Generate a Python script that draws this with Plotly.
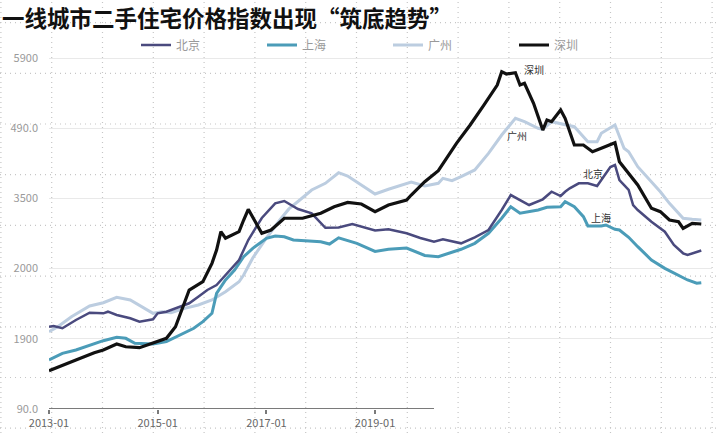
import plotly.graph_objects as go

# Index values (monthly points, approximate)
sz_dates = ["2013-01", "2013-04", "2013-07", "2013-11", "2014-01", "2014-04", "2014-06", "2014-09",
            "2014-12", "2015-03", "2015-05", "2015-07", "2015-08", "2015-11", "2016-01", "2016-02",
            "2016-03", "2016-04", "2016-07", "2016-08", "2016-09", "2016-12", "2017-02", "2017-05",
            "2017-09", "2018-01", "2018-04", "2018-07", "2018-10", "2019-01", "2019-04", "2019-08",
            "2019-09", "2019-12", "2020-03", "2020-07", "2020-10", "2021-01", "2021-04", "2021-05",
            "2021-06", "2021-08", "2021-09", "2021-10", "2021-12", "2022-02", "2022-03", "2022-04",
            "2022-06", "2022-07", "2022-09", "2022-11", "2023-01", "2023-03", "2023-06", "2023-07",
            "2023-10", "2023-11", "2024-02", "2024-04", "2024-06", "2024-08", "2024-09", "2024-11",
            "2025-01"]
sz_values = [144.6, 152.7, 159.8, 170.2, 174.0, 182.6, 178.7, 177.3,
             183.6, 190.7, 207.2, 240.6, 259.5, 271.3, 297.5, 316.5,
             342.6, 333.2, 342.6, 359.2, 374.5, 340.3, 345.0, 361.7,
             361.7, 368.8, 378.2, 384.2, 382.0, 371.1, 380.6, 387.7,
             394.8, 413.8, 429.5, 468.5, 494.6, 523.0, 551.5, 570.5,
             567.2, 569.1, 551.5, 554.0, 525.5, 487.4, 501.7, 499.3,
             515.9, 504.1, 466.1, 466.1, 456.5, 461.4, 469.3, 442.3,
             418.6, 409.1, 375.9, 371.1, 359.2, 356.8, 347.4, 354.5,
             353.5]

bj_dates = ["2013-01", "2013-02", "2013-04", "2013-07", "2013-10", "2014-01", "2014-02", "2014-04",
            "2014-07", "2014-09", "2014-12", "2015-01", "2015-03", "2015-06", "2015-08", "2015-10",
            "2015-12", "2016-02", "2016-07", "2016-09", "2016-12", "2017-03", "2017-05", "2017-08",
            "2017-11", "2018-02", "2018-05", "2018-08", "2018-11", "2019-01", "2019-04", "2019-08",
            "2019-11", "2020-02", "2020-04", "2020-08", "2020-11", "2021-02", "2021-05", "2021-07",
            "2021-11", "2022-02", "2022-04", "2022-06", "2022-07", "2022-08", "2022-10", "2022-12",
            "2023-02", "2023-03", "2023-05", "2023-06", "2023-07", "2023-09", "2023-10", "2023-11",
            "2024-02", "2024-05", "2024-07", "2024-09", "2024-10", "2025-01"]
bj_values = [207.2, 208.2, 205.0, 216.8, 227.2, 226.3, 228.6, 223.9,
             219.2, 214.4, 217.8, 226.3, 228.6, 235.7, 240.6, 250.0,
             259.5, 266.6, 302.3, 330.7, 362.1, 383.0, 386.3, 374.9,
             368.8, 348.1, 348.5, 353.5, 347.4, 344.3, 346.1, 340.3,
             333.6, 328.3, 331.7, 326.0, 334.6, 345.0, 373.5, 394.8,
             380.6, 388.7, 399.5, 393.4, 399.5, 404.4, 411.5, 411.5,
             407.7, 416.2, 434.7, 437.6, 416.2, 402.0, 380.6, 373.5,
             356.8, 342.6, 323.6, 311.8, 309.4, 315.8]

sh_dates = ["2013-01", "2013-04", "2013-07", "2013-10", "2014-01", "2014-04", "2014-06", "2014-08",
            "2014-10", "2014-12", "2015-03", "2015-06", "2015-09", "2015-11", "2016-01", "2016-02",
            "2016-04", "2016-06", "2016-08", "2016-10", "2017-01", "2017-03", "2017-05", "2017-07",
            "2017-10", "2018-01", "2018-03", "2018-05", "2018-09", "2019-01", "2019-04", "2019-08",
            "2019-12", "2020-03", "2020-08", "2020-11", "2021-02", "2021-05", "2021-07", "2021-09",
            "2022-01", "2022-03", "2022-06", "2022-07", "2022-09", "2022-11", "2022-12", "2023-03",
            "2023-04", "2023-06", "2023-07", "2023-09", "2023-11", "2024-02", "2024-05", "2024-10",
            "2024-12", "2025-01"]
sh_values = [159.8, 169.3, 174.0, 181.2, 187.3, 192.1, 190.7, 183.6,
             182.6, 182.6, 185.9, 195.4, 205.0, 214.4, 226.3, 254.8,
             273.8, 288.0, 306.9, 318.9, 333.2, 336.4, 335.4, 330.7,
             329.7, 328.3, 325.0, 333.9, 326.0, 314.4, 317.5, 319.3,
             308.7, 306.9, 317.5, 326.0, 340.3, 361.7, 378.2, 368.8,
             373.5, 377.3, 378.2, 385.3, 378.2, 363.9, 350.7, 350.7,
             352.1, 346.0, 345.0, 334.6, 321.2, 302.3, 290.4, 273.8,
             269.1, 269.9]

gz_dates = ["2013-01", "2013-03", "2013-06", "2013-10", "2014-01", "2014-04", "2014-07", "2014-10",
            "2014-12", "2015-02", "2015-04", "2015-07", "2015-10", "2016-01", "2016-04", "2016-07",
            "2016-08", "2016-10", "2017-01", "2017-04", "2017-06", "2017-08", "2017-11", "2018-02",
            "2018-05", "2018-07", "2018-10", "2019-01", "2019-04", "2019-08", "2019-09", "2019-12",
            "2020-03", "2020-04", "2020-06", "2020-08", "2020-11", "2021-02", "2021-05", "2021-08",
            "2021-10", "2022-01", "2022-02", "2022-04", "2022-09", "2022-12", "2023-02", "2023-03",
            "2023-06", "2023-08", "2023-09", "2023-11", "2024-02", "2024-04", "2024-06", "2024-09",
            "2024-11", "2025-01"]
gz_values = [200.1, 207.2, 221.5, 236.7, 241.4, 249.1, 245.3, 233.4,
             226.3, 228.6, 227.2, 233.4, 238.1, 245.3, 257.1, 271.3,
             280.9, 305.1, 333.6, 359.2, 375.0, 385.6, 402.0, 411.5,
             426.6, 421.9, 409.1, 396.3, 403.0, 411.5, 413.4, 407.7,
             411.5, 418.6, 415.2, 420.9, 430.5, 454.2, 480.3, 504.1,
             499.3, 489.9, 488.4, 499.3, 492.1, 470.8, 470.8, 482.7,
             494.6, 461.4, 456.5, 435.2, 413.8, 399.5, 383.0, 361.7,
             360.2, 359.2]

# y tick labels exactly as printed on the reference
y_tickvals = [90, 190, 290, 390, 490, 590]
y_ticktext = ["90.0", "1900", "2000", "3500", "490.0", "5900"]
x_tickvals = ["2013-01-01", "2015-01-01", "2017-01-01", "2019-01-01"]
x_ticktext = ["2013-01", "2015-01", "2017-01", "2019-01"]

W, H = 720, 433
FONT = "Noto Sans CJK SC"

fig = go.Figure()

series = [
    ("广州", gz_dates, gz_values, "#bccde0", 3, 3),
    ("上海", sh_dates, sh_values, "#4b9cb8", 3, 2),
    ("北京", bj_dates, bj_values, "#4a4a7e", 2.5, 1),
    ("深圳", sz_dates, sz_values, "#111111", 3.2, 4),
]
for name, xs, ys, color, width, rank in series:
    fig.add_trace(go.Scatter(x=xs, y=ys, mode="lines", name=name, legendrank=rank,
                             line=dict(color=color, width=width)))

# dotted "paper" grid behind the whole picture
grid_line = dict(color="#c6c6c6", width=1.2, dash="1px,4px")
shapes = []
for k in range(15):
    px = 0.9 + 50.8 * k
    shapes.append(dict(type="line", xref="paper", yref="paper", x0=px / W, x1=px / W, y0=0, y1=1,
                       line=grid_line, layer="below"))
for k in range(9):
    py = 22.6 + 50.7 * k
    shapes.append(dict(type="line", xref="paper", yref="paper", x0=0, x1=1,
                       y0=1 - py / H, y1=1 - py / H, line=grid_line, layer="below"))
# short x axis line
shapes.append(dict(type="line", xref="x", yref="y", x0="2013-01-01", x1="2020-02-01", y0=90, y1=90,
                   line=dict(color="#7a7a7a", width=2)))

labels = [("深圳", "2021-12-01", 573), ("广州", "2021-08-15", 479),
          ("北京", "2023-01-01", 426), ("上海", "2023-03-01", 363.5)]
annotations = [dict(x=d, y=v, xref="x", yref="y", text=t, showarrow=False,
                    font=dict(family=FONT, size=10, color="#333333")) for t, d, v in labels]
annotations.append(dict(x=0, y=1 - 17 / H, xref="paper", yref="paper", xanchor="left", yanchor="middle",
                        text="<b>一线城市二手住宅价格指数出现“筑底趋势”</b>", showarrow=False,
                        font=dict(family=FONT, size=22.5, color="#111111")))

fig.update_layout(
    width=W, height=H,
    margin=dict(l=0, r=0, t=0, b=0),
    paper_bgcolor="white", plot_bgcolor="rgba(0,0,0,0)",
    font=dict(family=FONT),
    shapes=shapes, annotations=annotations,
    showlegend=True,
    legend=dict(orientation="h", x=136 / W, y=1 - 45 / H, xanchor="left", yanchor="middle",
                entrywidth=81, entrywidthmode="pixels", bgcolor="rgba(0,0,0,0)",
                font=dict(family=FONT, size=12, color="#9a9a9a")),
    xaxis=dict(type="date", domain=[49 / W, 712 / W], range=["2013-01-01", "2025-03-14"],
               tickvals=x_tickvals, ticktext=x_ticktext, ticks="outside", ticklen=4,
               tickcolor="#7a7a7a", tickwidth=1.5, showgrid=False, showline=False, zeroline=False,
               automargin=False, tickfont=dict(family=FONT, size=11, color="#666666")),
    yaxis=dict(domain=[1 - 409 / H, 1 - 50 / H], range=[90, 601.4],
               tickvals=y_tickvals, ticktext=y_ticktext, ticks="", showline=False, zeroline=False,
               showgrid=True, gridcolor="#e9e9e9", gridwidth=1, ticklabelstandoff=10,
               automargin=False, tickfont=dict(family=FONT, size=11, color="#9a9a9a")),
)

fig.write_html("out.html", config={"displayModeBar": False},
               post_script="document.body.style.margin='0px';")
